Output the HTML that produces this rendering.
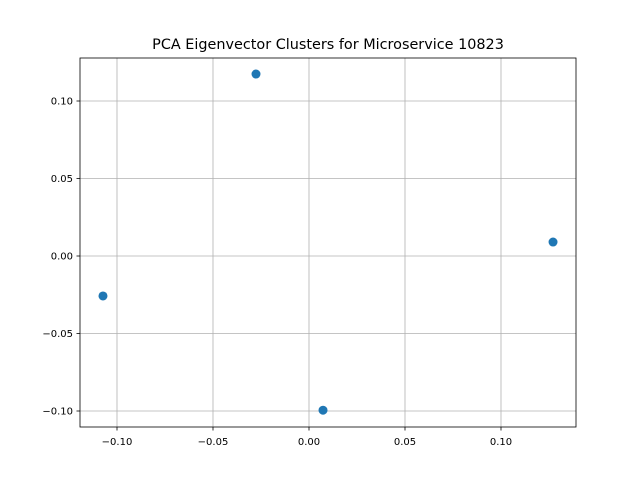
<!DOCTYPE html>
<html><head><meta charset="utf-8"><style>
body{margin:0;background:#fff;}
svg{display:block;font-family:"DejaVu Sans","Liberation Sans",sans-serif;}
</style></head><body>
<svg id="chart" width="640" height="480" viewBox="0 0 640 480">
<rect x="0" y="0" width="640" height="480" fill="#fff"/>
<text x="328" y="49" text-anchor="middle" font-size="14.4" fill="#000">PCA Eigenvector Clusters for Microservice 10823</text>
<g id="grid"></g>
<g id="ticks"></g>
<g id="points"></g>
<rect x="80" y="58" width="496" height="369" fill="none" stroke="#000" stroke-width="0.8"/>
</svg>
<script>
const xTicks=[-0.10,-0.05,0.00,0.05,0.10];
const xTickLabels=["−0.10","−0.05","0.00","0.05","0.10"];
const yTicks=[-0.10,-0.05,0.00,0.05,0.10];
const yTickLabels=["−0.10","−0.05","0.00","0.05","0.10"];
const xValues=[-0.1073,-0.0276,0.0073,0.1271];
const yValues=[-0.0258,0.1174,-0.0995,0.0090];

const NS="http://www.w3.org/2000/svg";
function sx(v){return 309+v*1920;}
function sy(v){return 256-v*1550;}
function mk(tag,attrs,parent){const e=document.createElementNS(NS,tag);for(const k in attrs)e.setAttribute(k,attrs[k]);parent.appendChild(e);return e;}
const grid=document.getElementById('grid'),ticks=document.getElementById('ticks'),pts=document.getElementById('points');
xTicks.forEach((t,i)=>{
  const x=sx(t);
  const g=mk('line',{x1:x,x2:x,y1:58,y2:427,stroke:'#b0b0b0','stroke-width':0.8},grid);
  
  
  const tk=mk('line',{x1:x,x2:x,y1:427,y2:430.5,stroke:'#000','stroke-width':0.8},ticks);
  
  
  const lb=mk('text',{x:x,y:445,'text-anchor':'middle','font-size':10,fill:'#000'},ticks);
  lb.textContent=xTickLabels[i];
  
  
});
yTicks.forEach((t,i)=>{
  const y=sy(t);
  const g=mk('line',{x1:80,x2:576,y1:y,y2:y,stroke:'#b0b0b0','stroke-width':0.8},grid);
  
  
  const tk=mk('line',{x1:76.5,x2:80,y1:y,y2:y,stroke:'#000','stroke-width':0.8},ticks);
  
  
  const lb=mk('text',{x:73,y:y+3.5,'text-anchor':'end','font-size':10,fill:'#000'},ticks);
  lb.textContent=yTickLabels[i];
  
  
});
xValues.forEach((v,i)=>{
  const c=mk('circle',{cx:sx(v),cy:sy(yValues[i]),r:4.5,fill:'#1f77b4'},pts);
  
  
});
</script>
</body></html>
